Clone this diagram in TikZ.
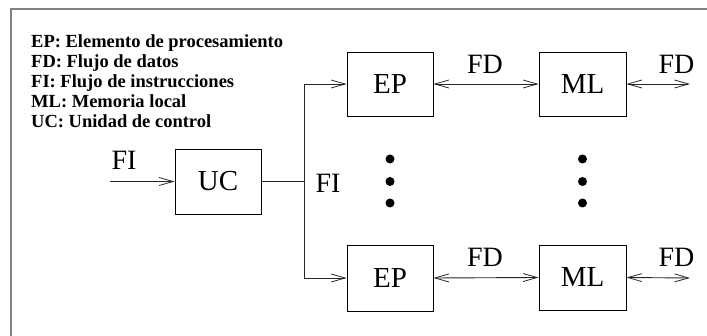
\documentclass[tikz,border=0pt]{standalone}
\usepackage{fontspec}
\setmainfont{Liberation Serif}
\usetikzlibrary{arrows.meta}
\begin{document}
\begin{tikzpicture}[x=1pt,y=-1pt,
  blk/.style={draw, line width=0.9pt, inner sep=0pt, minimum width=86pt, minimum height=64pt, font=\fontsize{29}{34}\selectfont},
  lbl/.style={anchor=base, inner sep=0pt, font=\fontsize{28}{34}\selectfont},
  leg/.style={anchor=base west, inner sep=0pt, font=\fontsize{18.5}{20}\selectfont\bfseries},
  conn/.style={line width=0.9pt, draw=black!85},
  arr/.style={conn, -{Straight Barb[length=14pt,width=8pt,line width=0.8pt]}},
  darr/.style={conn, {Straight Barb[length=14pt,width=8pt,line width=0.8pt]}-{Straight Barb[length=14pt,width=8pt,line width=0.8pt]}},
  dot/.style={circle, fill=black, inner sep=0pt, minimum size=9pt}]
\useasboundingbox (0,0) rectangle (707,336);
\draw[line width=2pt, draw=black!50] (11,340) -- (11,9) -- (710,9);
% legend
\node[leg] (l1) at (31,48) {EP: Elemento de procesamiento};
\node[leg] (l2) at (31,68) {FD: Flujo de datos};
\node[leg] (l3) at (31,88) {FI: Flujo de instrucciones};
\node[leg] (l4) at (31,108) {ML: Memoria local};
\node[leg] (l5) at (31,128) {UC: Unidad de control};
% blocks
\node[blk, minimum height=65pt] (uc) at (218,181.5) {UC};
\node[blk] (ep1) at (390,84) {EP};
\node[blk, minimum width=87pt] (ml1) at (582.5,84) {ML};
\node[blk, minimum height=66pt] (ep2) at (390,278) {EP};
\node[blk, minimum width=87pt, minimum height=65pt] (ml2) at (582.5,277.5) {ML};
% coordinates
\coordinate (in) at (110,181.5);
\coordinate (j) at (304,181.5);
\coordinate (o1) at (690,84);
\coordinate (o2) at (690,278);
% connectors
\draw[arr] (in) -- (uc.west);
\draw[conn] (uc.east) -- (j);
\draw[arr] (j) |- (ep1.west);
\draw[arr] (j) |- (ep2.west);
\draw[darr] (ep1.east) -- (ml1.west);
\draw[darr] (ml1.east) -- (o1);
\draw[darr] (ep2.east) -- (ml2.west);
\draw[darr] (ml2.east) -- (o2);
% labels
\node[lbl] (fi1) at (124,170) {FI};
\node[lbl] (fi2) at (328,193) {FI};
\node[lbl] (fd1) at (485,74) {FD};
\node[lbl] (fd2) at (676.5,74) {FD};
\node[lbl] (fd3) at (485,267) {FD};
\node[lbl] (fd4) at (676.5,267) {FD};
% dots
\node[dot] (d1) at (390,159) {};
\node[dot] (d2) at (390,181.5) {};
\node[dot] (d3) at (390,203) {};
\node[dot] (d4) at (582.5,159) {};
\node[dot] (d5) at (582.5,181.5) {};
\node[dot] (d6) at (582.5,203) {};
\end{tikzpicture}
\end{document}
